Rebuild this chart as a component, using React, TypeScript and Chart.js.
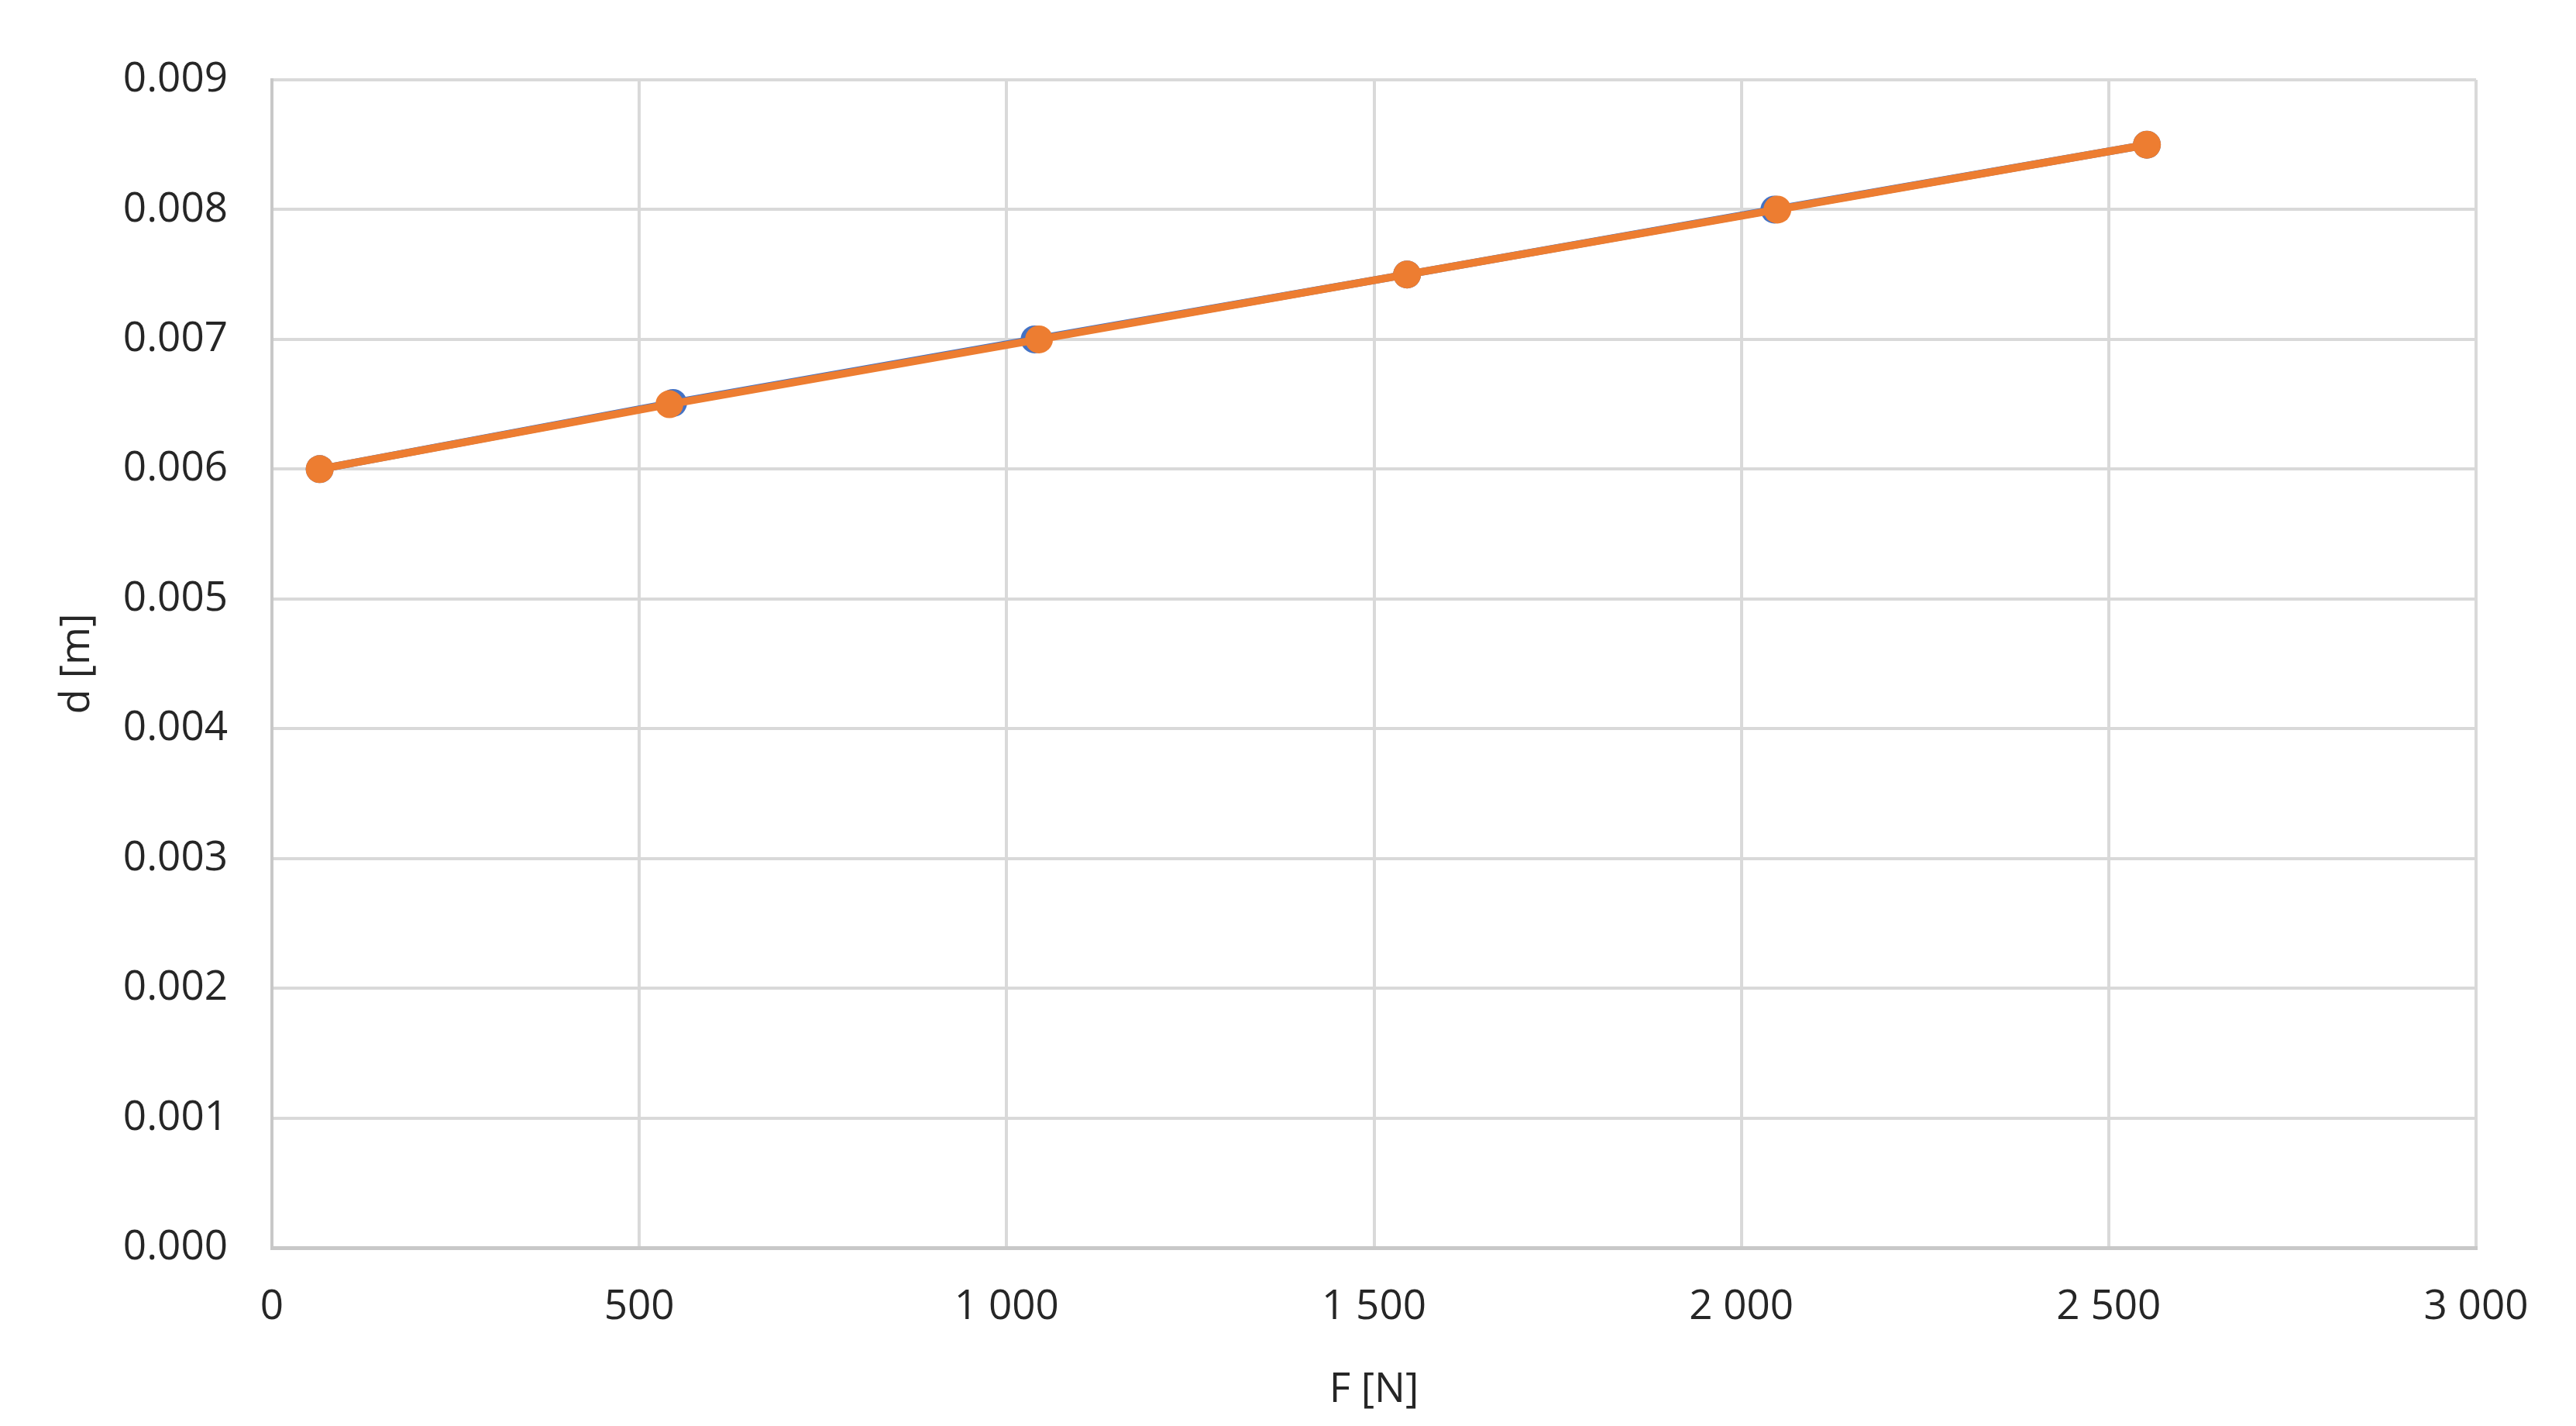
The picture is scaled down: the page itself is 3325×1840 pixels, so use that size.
import { useEffect, useRef } from 'react';
import { Chart, registerables } from 'chart.js';

Chart.register(...registerables);

// values
const forceOrange = [65, 541, 1044, 1545, 2049, 2552];
const dispOrange = [0.006, 0.0065, 0.007, 0.0075, 0.008, 0.0085];
const forceBlue = [65, 546, 1038, 1545, 2045, 2552];
const dispBlue = [0.006, 0.00651, 0.007, 0.0075, 0.008, 0.0085];

const xMin = 0;
const xMax = 3000;
const xStep = 500;
const yMin = 0;
const yMax = 0.009;
const yStep = 0.001;

const FONT = '"Open Sans", "Noto Sans", sans-serif';
const TEXT = '#262626';
const FONT_SIZE = 53;

const groupThousands = (v: number) =>
  Math.round(v).toString().replace(/\B(?=(\d{3})+(?!\d))/g, ' ');

export default function App() {
  const canvasRef = useRef<HTMLCanvasElement>(null);
  const chartRef = useRef<Chart | null>(null);

  useEffect(() => {
    document.body.style.margin = '0';
    if (!canvasRef.current) return;
    if (chartRef.current) chartRef.current.destroy();

    const ctx = canvasRef.current.getContext('2d');
    if (!ctx) return;

    const toPoints = (xs: number[], ys: number[]) => xs.map((x, i) => ({ x, y: ys[i] }));

    chartRef.current = new Chart(ctx, {
      type: 'scatter',
      data: {
        datasets: [
          {
            label: 'orange',
            data: toPoints(forceOrange, dispOrange),
            showLine: true,
            borderColor: '#ED7D31',
            backgroundColor: '#ED7D31',
            borderWidth: 10,
            pointRadius: 18,
            pointBorderWidth: 0,
            order: 1,
          },
          {
            label: 'blue',
            data: toPoints(forceBlue, dispBlue),
            showLine: true,
            borderColor: '#4472C4',
            backgroundColor: '#4472C4',
            borderWidth: 10,
            pointRadius: 18,
            pointBorderWidth: 0,
            order: 2,
          },
        ],
      },
      options: {
        animation: false,
        responsive: true,
        maintainAspectRatio: false,
        layout: { padding: { top: 103, right: 129, left: 0, bottom: 0 } },
        plugins: {
          legend: { display: false },
          tooltip: { enabled: false },
        },
        scales: {
          x: {
            type: 'linear',
            min: xMin,
            max: xMax,
            afterFit: (scale) => {
              scale.height = 230;
            },
            ticks: {
              stepSize: xStep,
              padding: 45,
              color: TEXT,
              font: { family: FONT, size: FONT_SIZE },
              callback: (v) => groupThousands(Number(v)),
            },
            grid: { color: '#d9d9d9', lineWidth: 4, drawTicks: false },
            border: { color: '#c8c8c8', width: 5 },
            title: {
              display: true,
              text: 'F [N]',
              color: TEXT,
              font: { family: FONT, size: FONT_SIZE },
              padding: { top: 0, bottom: 14 },
            },
          },
          y: {
            type: 'linear',
            min: yMin,
            max: yMax,
            afterFit: (scale) => {
              scale.width = 351;
            },
            ticks: {
              stepSize: yStep,
              padding: 57,
              color: TEXT,
              font: { family: FONT, size: FONT_SIZE },
              callback: (v) => Number(v).toFixed(3),
            },
            grid: { color: '#d9d9d9', lineWidth: 4, drawTicks: false },
            border: { color: '#c8c8c8', width: 4 },
            title: {
              display: true,
              text: 'd [m]',
              color: TEXT,
              font: { family: FONT, size: FONT_SIZE },
              padding: { top: 68, bottom: 0 },
            },
          },
        },
      },
    });

    return () => {
      if (chartRef.current) {
        chartRef.current.destroy();
        chartRef.current = null;
      }
    };
  }, []);

  return (
    <div style={{ width: '3325px', height: '1840px', position: 'relative' }}>
      <canvas ref={canvasRef}></canvas>
    </div>
  );
}
